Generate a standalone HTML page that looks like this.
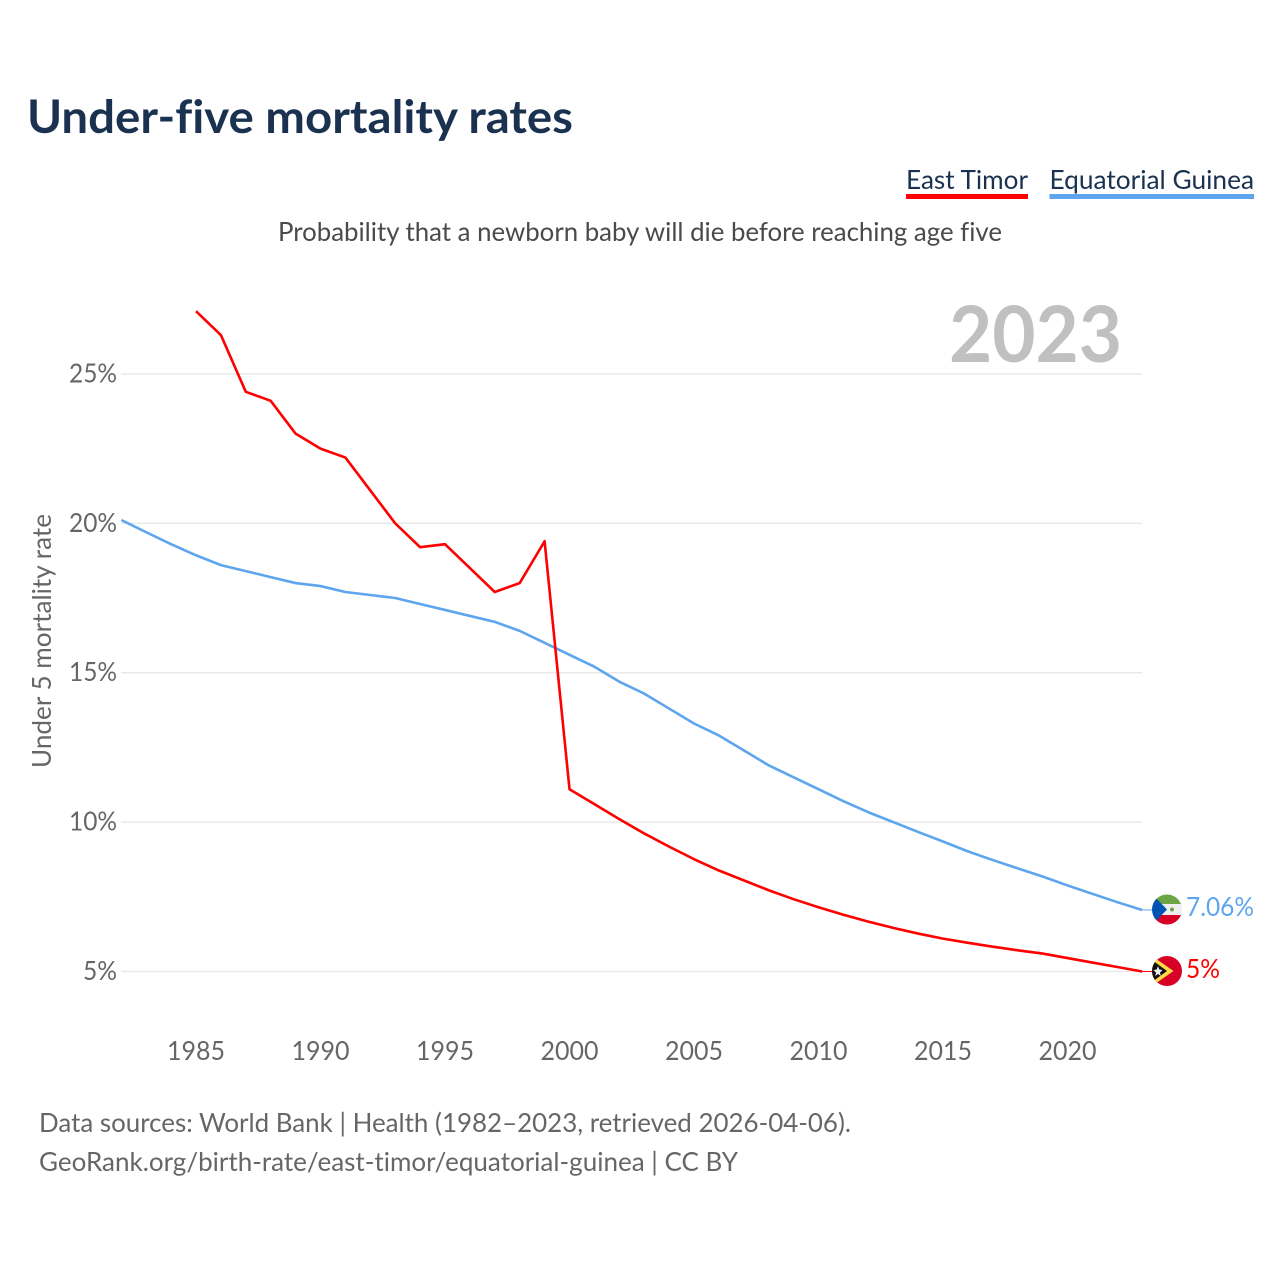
<!DOCTYPE html>
<html lang="en">
<head>
<meta charset="utf-8">
<title>Under-five mortality rates</title>
<style>
html,body{margin:0;padding:0;background:#fff;width:1280px;height:1280px;overflow:hidden}
svg{display:block}
text{font-family:"Lato","Carlito","Liberation Sans",sans-serif;font-variant-ligatures:none;font-feature-settings:"liga" 0,"clig" 0}
</style>
</head>
<body>
<svg id="chart" xmlns="http://www.w3.org/2000/svg" width="1280" height="1280" viewBox="0 0 1280 1280">
  <defs>
    <clipPath id="flag-clip-gq"><circle cx="1167" cy="909.5" r="15"/></clipPath>
    <clipPath id="flag-clip-tl"><circle cx="1167" cy="971" r="15"/></clipPath>
  </defs>
  <text x="27" y="133" font-size="46" font-weight="700" fill="#1a3150" textLength="546" lengthAdjust="spacingAndGlyphs">Under-five mortality rates</text>

  <g>
    <text x="906" y="189" font-size="26" fill="#1a3150" textLength="122" lengthAdjust="spacingAndGlyphs">East Timor</text>
    <rect x="906" y="194" width="122" height="5" fill="#ff0000"/>
  </g>
  <g>
    <text x="1049.500" y="189" font-size="26" fill="#1a3150" textLength="204.500" lengthAdjust="spacingAndGlyphs">Equatorial Guinea</text>
    <rect x="1049.500" y="194" width="204.500" height="5" fill="#5da5ee"/>
  </g>

  <text x="278" y="241" font-size="26" fill="#4a4a4a" textLength="724" lengthAdjust="spacingAndGlyphs">Probability that a newborn baby will die before reaching age five</text>

  <text x="949" y="362" font-size="78" font-weight="700" fill="#c0c0c0" textLength="173" lengthAdjust="spacingAndGlyphs">2023</text>

  <g id="grid"></g>
  <g id="y-ticks"></g>
  <g id="x-ticks"></g>

  <text transform="translate(51,641) rotate(-90)" text-anchor="middle" font-size="26" fill="#666" textLength="254" lengthAdjust="spacingAndGlyphs">Under 5 mortality rate</text>

  <g id="series"></g>

  <g clip-path="url(#flag-clip-gq)">
    <rect x="1152" y="894" width="30" height="31" fill="#eeeeee"/>
    <rect x="1152" y="894" width="30" height="10" fill="#6da544"/>
    <rect x="1152" y="915" width="30" height="10" fill="#d80027"/>
    <polygon points="1152,894 1152,925 1167,909.500" fill="#0052b4"/>
    <circle cx="1172" cy="909.500" r="2" fill="#6da544"/>
  </g>
  <g clip-path="url(#flag-clip-tl)">
    <rect x="1152" y="956" width="30" height="30" fill="#d80027"/>
    <polygon points="1152,956 1152,986 1173.500,971" fill="#ffda44"/>
    <polygon points="1152,960 1152,982 1167,971" fill="#111111"/>
    <polygon points="1158,966 1159.300,969.500 1162.500,970 1160,972.500 1160.800,976 1158,974 1155.200,976 1156,972.500 1153.500,970 1156.700,969.500" fill="#eeeeee"/>
  </g>

  <text x="1186" y="916" font-size="26" fill="#5da5ee" textLength="68" lengthAdjust="spacingAndGlyphs">7.06%</text>
  <text x="1186" y="978" font-size="26" fill="#ff0000" textLength="34" lengthAdjust="spacingAndGlyphs">5%</text>

  <text x="39" y="1132" font-size="26" fill="#666" textLength="812" lengthAdjust="spacingAndGlyphs">Data sources: World Bank | Health (1982–2023, retrieved 2026-04-06).</text>
  <text x="39" y="1171" font-size="26" fill="#666" textLength="699" lengthAdjust="spacingAndGlyphs">GeoRank.org/birth-rate/east-timor/equatorial-guinea | CC BY</text>
</svg>
<script>
const yTickValues = [5, 10, 15, 20, 25];
const xTickValues = [1985, 1990, 1995, 2000, 2005, 2010, 2015, 2020];
const guineaYears = [1982,1983,1984,1985,1986,1987,1988,1989,1990,1991,1992,1993,1994,1995,1996,1997,1998,1999,2000,2001,2002,2003,2004,2005,2006,2007,2008,2009,2010,2011,2012,2013,2014,2015,2016,2017,2018,2019,2020,2021,2022,2023];
const guineaValues = [20.11,19.7,19.3,18.93,18.6,18.4,18.2,18.0,17.9,17.7,17.6,17.5,17.3,17.1,16.9,16.7,16.4,16.0,15.6,15.2,14.7,14.3,13.8,13.3,12.9,12.4,11.9,11.5,11.1,10.7,10.33,10.0,9.67,9.35,9.02,8.73,8.45,8.18,7.88,7.6,7.32,7.06];
const timorYears = [1985,1986,1987,1988,1989,1990,1991,1992,1993,1994,1995,1996,1997,1998,1999,2000,2001,2002,2003,2004,2005,2006,2007,2008,2009,2010,2011,2012,2013,2014,2015,2016,2017,2018,2019,2020,2021,2022,2023];
const timorValues = [27.1,26.3,24.4,24.1,23.0,22.5,22.2,21.1,20.0,19.2,19.3,18.5,17.7,18.0,19.4,11.1,10.6,10.1,9.62,9.18,8.76,8.38,8.05,7.72,7.42,7.15,6.9,6.67,6.46,6.27,6.1,5.96,5.83,5.71,5.6,5.45,5.3,5.15,5.0];

const SVGNS = 'http://www.w3.org/2000/svg';
const xScale = function (year) { return 196 + (year - 1985) * 24.9; };
const yScale = function (value) { return 971.5 - (value - 5) * 29.88; };

const gridGroup = document.getElementById('grid');
const yTickGroup = document.getElementById('y-ticks');
const xTickGroup = document.getElementById('x-ticks');
const seriesGroup = document.getElementById('series');

yTickValues.forEach(function (v) {
  const line = document.createElementNS(SVGNS, 'line');
  
  
  line.setAttribute('x1', xScale(1982));
  line.setAttribute('x2', xScale(2023));
  line.setAttribute('y1', yScale(v));
  line.setAttribute('y2', yScale(v));
  line.setAttribute('stroke', '#e9e9e9');
  line.setAttribute('stroke-width', '1.5');
  gridGroup.appendChild(line);

  const label = document.createElementNS(SVGNS, 'text');
  
  
  label.setAttribute('x', 117);
  label.setAttribute('y', yScale(v) + 8.5);
  label.setAttribute('text-anchor', 'end');
  label.setAttribute('font-size', '26');
  label.setAttribute('fill', '#666');
  label.setAttribute('textLength', v < 10 ? 34 : 48);
  label.setAttribute('lengthAdjust', 'spacingAndGlyphs');
  label.textContent = v + '%';
  yTickGroup.appendChild(label);
});

xTickValues.forEach(function (year) {
  const label = document.createElementNS(SVGNS, 'text');
  
  
  label.setAttribute('x', xScale(year));
  label.setAttribute('y', 1060);
  label.setAttribute('text-anchor', 'middle');
  label.setAttribute('font-size', '26');
  label.setAttribute('fill', '#666');
  label.setAttribute('textLength', 58);
  label.setAttribute('lengthAdjust', 'spacingAndGlyphs');
  label.textContent = year;
  xTickGroup.appendChild(label);
});

function buildPoints(years, values) {
  return years.map(function (y, i) { return xScale(y).toFixed(2) + ',' + yScale(values[i]).toFixed(2); }).join(' ');
}

const guineaLine = document.createElementNS(SVGNS, 'polyline');


guineaLine.setAttribute('points', buildPoints(guineaYears, guineaValues));
guineaLine.setAttribute('fill', 'none');
guineaLine.setAttribute('stroke', '#5da5ee');
guineaLine.setAttribute('stroke-width', '2.6');
guineaLine.setAttribute('stroke-linejoin', 'round');
seriesGroup.appendChild(guineaLine);

const timorLine = document.createElementNS(SVGNS, 'polyline');


timorLine.setAttribute('points', buildPoints(timorYears, timorValues));
timorLine.setAttribute('fill', 'none');
timorLine.setAttribute('stroke', '#ff0000');
timorLine.setAttribute('stroke-width', '2.6');
timorLine.setAttribute('stroke-linejoin', 'round');
seriesGroup.appendChild(timorLine);

const guineaConnector = document.createElementNS(SVGNS, 'line');


guineaConnector.setAttribute('x1', xScale(2023));
guineaConnector.setAttribute('x2', 1152);
guineaConnector.setAttribute('y1', yScale(guineaValues[guineaValues.length - 1]));
guineaConnector.setAttribute('y2', yScale(guineaValues[guineaValues.length - 1]));
guineaConnector.setAttribute('stroke', '#5da5ee');
guineaConnector.setAttribute('stroke-width', '1');
seriesGroup.appendChild(guineaConnector);

const timorConnector = document.createElementNS(SVGNS, 'line');


timorConnector.setAttribute('x1', xScale(2023));
timorConnector.setAttribute('x2', 1152);
timorConnector.setAttribute('y1', yScale(timorValues[timorValues.length - 1]));
timorConnector.setAttribute('y2', yScale(timorValues[timorValues.length - 1]));
timorConnector.setAttribute('stroke', '#ff0000');
timorConnector.setAttribute('stroke-width', '1');
seriesGroup.appendChild(timorConnector);
</script>
</body>
</html>
